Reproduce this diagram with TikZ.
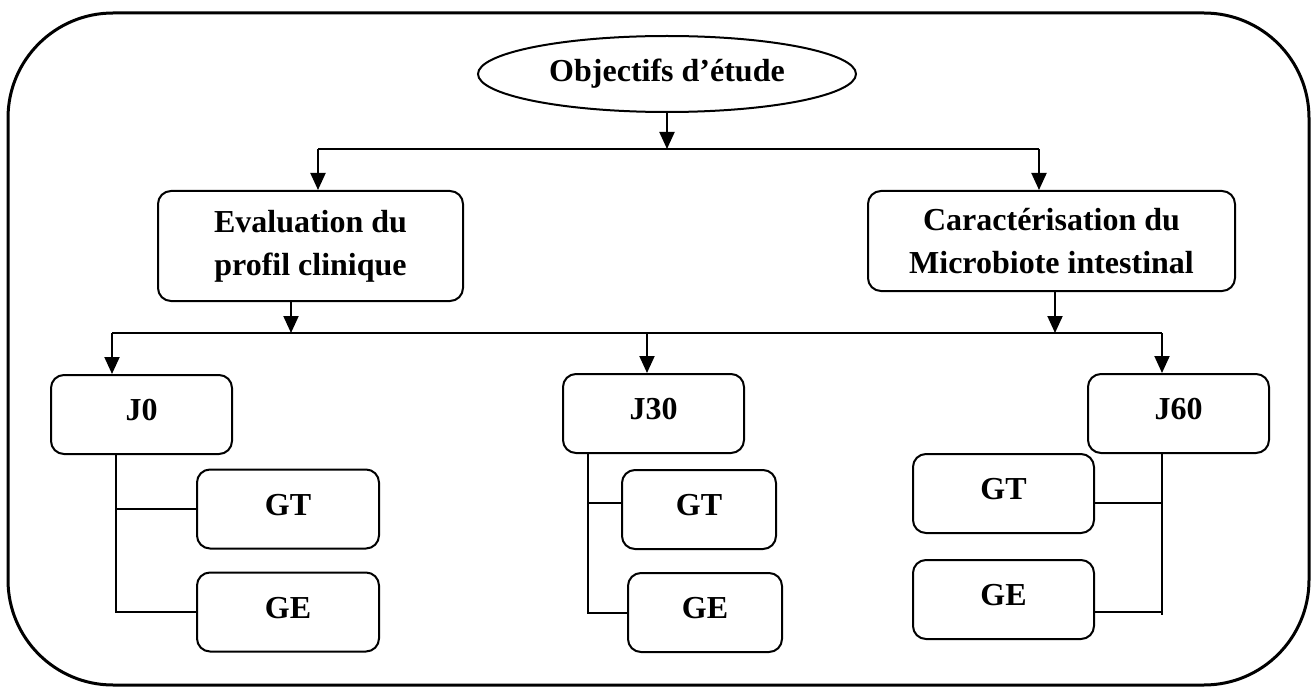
\documentclass[tikz,border=0pt]{standalone}
\usepackage{fontspec}
\setmainfont{Liberation Serif}
\usetikzlibrary{arrows.meta,shapes.geometric}

\tikzset{
  base/.style={font=\fontsize{32}{43}\selectfont\bfseries},
  goal/.style={base, draw, ellipse, line width=2pt, inner sep=0pt,
    minimum width=378pt, minimum height=76pt},
  bigbox/.style={base, draw, line width=2pt, rounded corners=13pt,
    inner sep=0pt, align=center},
  smallbox/.style={base, draw, line width=2pt, rounded corners=13pt,
    inner sep=0pt, minimum height=79pt, text height=22pt, text depth=10pt},
  link/.style={line width=2pt},
  arr/.style={line width=2pt, -{Triangle[length=17pt,width=15pt]}},
}

\begin{document}
\begin{tikzpicture}[x=1pt,y=-1pt]
  \useasboundingbox (0,0) rectangle (1312,687);

  % outer frame
  \draw[line width=3pt, rounded corners=105pt] (8,13) rectangle (1309,685);

  % top goal
  \node[goal] (obj) at (667,74) {Objectifs d’étude};

  % two axes of the study
  \node[bigbox, minimum width=305pt, minimum height=110pt] (eval) at (310.5,246)
    {Evaluation du\\profil clinique};
  \node[bigbox, minimum width=367pt, minimum height=100pt] (carac) at (1051.5,241)
    {Caractérisation du\\Microbiote intestinal};

  % time points
  \node[smallbox, minimum width=181pt] (j0)  at (141.5,414.5) {J0};
  \node[smallbox, minimum width=181pt] (j30) at (653.5,413.5) {J30};
  \node[smallbox, minimum width=181pt] (j60) at (1178.5,413.5) {J60};

  % groups
  \node[smallbox, minimum width=182pt] (gt0) at (288,509) {GT};
  \node[smallbox, minimum width=182pt] (ge0) at (288,612) {GE};
  \node[smallbox, minimum width=154pt] (gt30) at (699,509.5) {GT};
  \node[smallbox, minimum width=154pt] (ge30) at (705,612.5) {GE};
  \node[smallbox, minimum width=181pt] (gt60) at (1003.5,493.5) {GT};
  \node[smallbox, minimum width=181pt] (ge60) at (1003.5,599.5) {GE};

  % first bus
  \coordinate (busA) at (667,149);
  \coordinate (busAl) at (318,149);
  \coordinate (busAr) at (1039,149);
  \draw[arr] (obj.south) -- (busA);
  \draw[link] (busAl) -- (busAr);
  \draw[arr] (busAl) -- (busAl |- eval.north);
  \draw[arr] (busAr) -- (busAr |- carac.north);

  % second bus
  \coordinate (busBl) at (112,333);
  \coordinate (busBm) at (647,333);
  \coordinate (busBr) at (1162,333);
  \coordinate (evalout) at (291,333);
  \coordinate (caracout) at (1055,333);
  \draw[arr] (evalout |- eval.south) -- (evalout);
  \draw[arr] (caracout |- carac.south) -- (caracout);
  \draw[link] (busBl) -- (busBr);
  \draw[arr] (busBl) -- (busBl |- j0.north);
  \draw[arr] (busBm) -- (busBm |- j30.north);
  \draw[arr] (busBr) -- (busBr |- j60.north);

  % J0 branches
  \coordinate (s0) at (116,454);
  \draw[link] (s0 |- j0.south) -- (116,612) -- (ge0.west);
  \draw[link] (116,509) -- (gt0.west);

  % J30 branches
  \coordinate (s30) at (588,453);
  \draw[link] (s30 |- j30.south) -- (588,612.5) -- (ge30.west);
  \draw[link] (588,503) -- (gt30.west |- 0,503);

  % J60 branches
  \coordinate (s60) at (1162,453);
  \draw[link] (s60 |- j60.south) -- (1162,615);
  \draw[link] (1162,503) -- (gt60.east |- 0,503);
  \draw[link] (1162,612) -- (ge60.east |- 0,612);
\end{tikzpicture}
\end{document}
